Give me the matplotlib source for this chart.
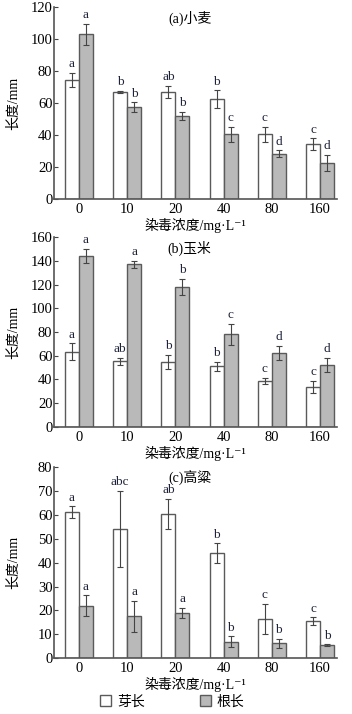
import matplotlib
matplotlib.use("Agg")
import matplotlib.pyplot as plt
from matplotlib.patches import Patch
import numpy as np

plt.rcParams["font.family"] = ["Liberation Serif", "Noto Sans CJK SC", "DejaVu Serif"]
plt.rcParams["font.size"] = 10

doses = ["0", "10", "20", "40", "80", "160"]

# (a) wheat
wheat_shoot = [74.5, 67, 67, 62.5, 40.5, 34.5]
wheat_shoot_err = [4.5, 0.5, 4, 5.5, 4.5, 3.5]
wheat_root = [103, 57.5, 52, 40.5, 28.5, 22.5]
wheat_root_err = [6.5, 3, 2.5, 4.5, 2, 5]
wheat_shoot_sig = ["a", "b", "ab", "b", "c", "c"]
wheat_root_sig = ["a", "b", "b", "c", "d", "d"]

# (b) maize
maize_shoot = [63.5, 55.5, 55, 51, 38.5, 34]
maize_shoot_err = [7, 3, 6, 4, 2.7, 5]
maize_root = [144, 137, 118, 78, 62, 52.5]
maize_root_err = [6, 3, 7, 9, 6, 6]
maize_shoot_sig = ["a", "ab", "b", "b", "c", "c"]
maize_root_sig = ["a", "a", "b", "c", "d", "d"]

# (c) sorghum
sorghum_shoot = [61, 54, 60.3, 44, 16.5, 15.5]
sorghum_shoot_err = [2.5, 16, 6.4, 4, 6.3, 1.6]
sorghum_root = [22, 17.5, 19, 7, 6.3, 5.5]
sorghum_root_err = [4.3, 6.5, 2.2, 2.2, 1.8, 0.3]
sorghum_shoot_sig = ["a", "abc", "ab", "b", "c", "c"]
sorghum_root_sig = ["a", "a", "a", "b", "b", "b"]

panels = [
    ("(a)小麦", wheat_shoot, wheat_shoot_err, wheat_root, wheat_root_err,
     wheat_shoot_sig, wheat_root_sig, 120, 20),
    ("(b)玉米", maize_shoot, maize_shoot_err, maize_root, maize_root_err,
     maize_shoot_sig, maize_root_sig, 160, 20),
    ("(c)高粱", sorghum_shoot, sorghum_shoot_err, sorghum_root, sorghum_root_err,
     sorghum_shoot_sig, sorghum_root_sig, 80, 10),
]

fig = plt.figure(figsize=(3.52, 7.14), dpi=100)
boxes = [(0.721, 0.990), (0.402, 0.668), (0.078, 0.346)]
left, right = 0.153, 0.957

edge = "#5a5a5a"
gray = "#b9b9b9"
sig_color = "#1e2238"
w = 0.29
x = np.arange(len(doses))

for (title, s, se, r, re, ss, rs, ymax, step), (b, t) in zip(panels, boxes):
    ax = fig.add_axes([left, b, right - left, t - b])
    ekw = dict(ecolor="#444444", elinewidth=0.8, capsize=2, capthick=0.8)
    ax.bar(x - w / 2, s, w, yerr=se, color="white", edgecolor=edge,
           linewidth=1.0, error_kw=ekw)
    ax.bar(x + w / 2, r, w, yerr=re, color=gray, edgecolor=edge,
           linewidth=1.0, error_kw=ekw)
    for xi, v, e, lab in zip(x - w / 2, s, se, ss):
        ax.annotate(lab, (xi, v + e), xytext=(0, 2), textcoords="offset points",
                    ha="center", va="bottom", fontsize=9.5, color=sig_color)
    for xi, v, e, lab in zip(x + w / 2, r, re, rs):
        ax.annotate(lab, (xi, v + e), xytext=(0, 2), textcoords="offset points",
                    ha="center", va="bottom", fontsize=9.5, color=sig_color)

    ax.set_xlim(-0.52, 5.35)
    ax.set_ylim(0, ymax)
    ax.set_yticks(np.arange(0, ymax + 1, step))
    ax.set_xticks(x)
    ax.set_xticklabels(doses)
    ax.tick_params(axis="x", length=0, pad=3, labelsize=10.5)
    ax.tick_params(axis="y", direction="in", length=3, width=0.8, pad=1,
                   labelsize=10.5, color="#444444")
    for sp in ("top", "right"):
        ax.spines[sp].set_visible(False)
    for sp in ("left", "bottom"):
        ax.spines[sp].set_color("#555555")
        ax.spines[sp].set_linewidth(1.2)
    ax.set_ylabel("长度/mm")
    ax.yaxis.set_label_coords(-0.12, 0.5)
    ax.set_xlabel("染毒浓度/mg·L⁻¹", labelpad=1)
    ax.text(0.48, 0.94, title, transform=ax.transAxes, ha="center",
            va="center", fontsize=10)

handles = [Patch(facecolor="white", edgecolor=edge, label="芽长"),
           Patch(facecolor=gray, edgecolor=edge, label="根长")]
fig.legend(handles=handles, loc="center", bbox_to_anchor=(0.49, 0.017),
           ncol=2, frameon=False, handlelength=0.8, handleheight=0.8,
           handletextpad=0.4, columnspacing=4.0, fontsize=10)

fig.savefig("out.png", dpi=100)
